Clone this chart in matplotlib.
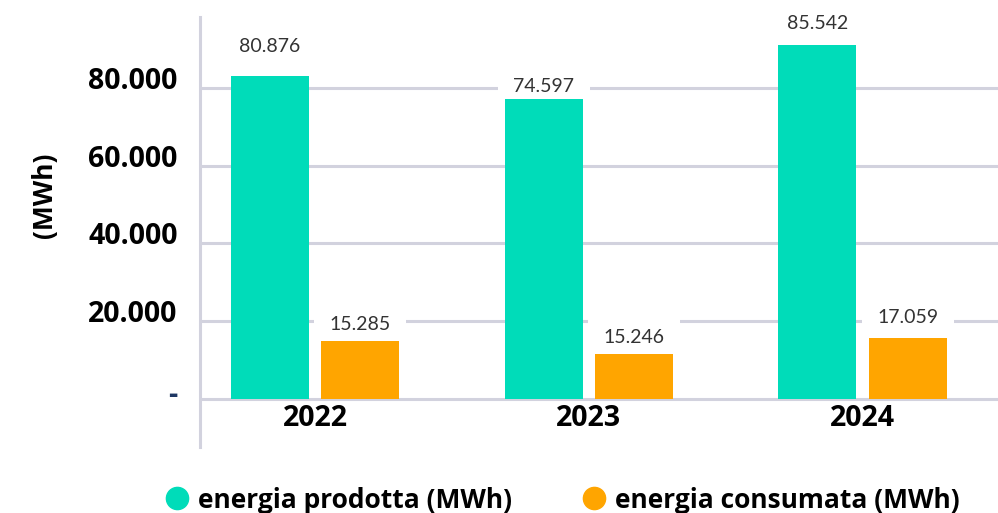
import matplotlib
matplotlib.use("Agg")
import matplotlib.pyplot as plt
import matplotlib.transforms as mtransforms
from matplotlib.lines import Line2D
import numpy as np

years = ["2022", "2023", "2024"]
prodotta = [83000, 77100, 91000]
consumata = [14950, 11500, 15650]
prodotta_labels = ["80.876", "74.597", "85.542"]
consumata_labels = ["15.285", "15.246", "17.059"]
ytick_values = [0, 20000, 40000, 60000, 80000]
ytick_labels = ["-", "20.000", "40.000", "60.000", "80.000"]
series_names = ["energia prodotta (MWh)", "energia consumata (MWh)"]

GREEN = "#00DCB9"
ORANGE = "#FFA500"
GRID = "#D2D2DE"

plt.rcParams["font.family"] = ["Open Sans", "DejaVu Sans"]

fig = plt.figure(figsize=(9.98, 5.13), dpi=100)
ax = fig.add_axes([200 / 998, 1 - 447 / 513, 798 / 998, 430 / 513])

x = np.arange(len(years))
w = 0.285
off = 0.165
ax.bar(x - off, prodotta, width=w, color=GREEN, zorder=3)
ax.bar(x + off, consumata, width=w, color=ORANGE, zorder=3)

ax.set_xlim(-0.42, 2.495)
ax.set_ylim(-12400, 98200)

for v in ytick_values:
    ax.axhline(v, color=GRID, lw=2.2, zorder=1)

for s in ["top", "right", "bottom"]:
    ax.spines[s].set_visible(False)
ax.spines["left"].set_color(GRID)
ax.spines["left"].set_linewidth(2.2)

ax.set_yticks(ytick_values)
ax.set_yticklabels(ytick_labels, fontsize=20.5, fontweight="bold")
ax.tick_params(axis="y", length=0, pad=16)
for lab, v in zip(ax.get_yticklabels(), ytick_values):
    dy = 7 if v == 0 else 10
    lab.set_transform(lab.get_transform() + mtransforms.ScaledTranslation(0, dy / 100, fig.dpi_scale_trans))
    if v == 0:
        lab.set_color("#1F3864")

ax.set_xticks([])
year_shift = ax.transData + mtransforms.ScaledTranslation(0, -20 / 100, fig.dpi_scale_trans)
for xi, yr in zip(x, years):
    ax.text(xi, 0, yr, transform=year_shift, ha="center", va="center",
            fontsize=20.5, fontweight="bold")

ax.set_ylabel("(MWh)", fontsize=19, fontweight="bold", labelpad=0)
ax.yaxis.set_label_coords(-(200 - 58) / 798, (447 - 195) / 430)

green_off = [30, 13, 21]
orange_off = [16, 17, 20]
label_kw = dict(textcoords="offset points", ha="center", va="center", fontsize=14,
                color="#333333", fontfamily=["Lato", "DejaVu Sans"],
                bbox=dict(boxstyle="square,pad=0.8", fc="white", ec="none"), zorder=2)
for xi, v, lab, o in zip(x, prodotta, prodotta_labels, green_off):
    ax.annotate(lab, (xi - off, v), xytext=(0, o * 0.72), **label_kw)
for xi, v, lab, o in zip(x, consumata, consumata_labels, orange_off):
    ax.annotate(lab, (xi + off, v), xytext=(0, o * 0.72), **label_kw)

handles = [Line2D([], [], marker="o", ls="none", color=GREEN, markersize=16),
           Line2D([], [], marker="o", ls="none", color=ORANGE, markersize=16)]
leg = fig.legend(handles, series_names, loc="center", bbox_to_anchor=(562 / 998, 1 - 500 / 513),
                 ncol=2, frameon=False, prop={"size": 19, "weight": "bold"},
                 handletextpad=0.3, columnspacing=2.6, handlelength=1.0, borderpad=0)

fig.savefig("out.png", dpi=100)
